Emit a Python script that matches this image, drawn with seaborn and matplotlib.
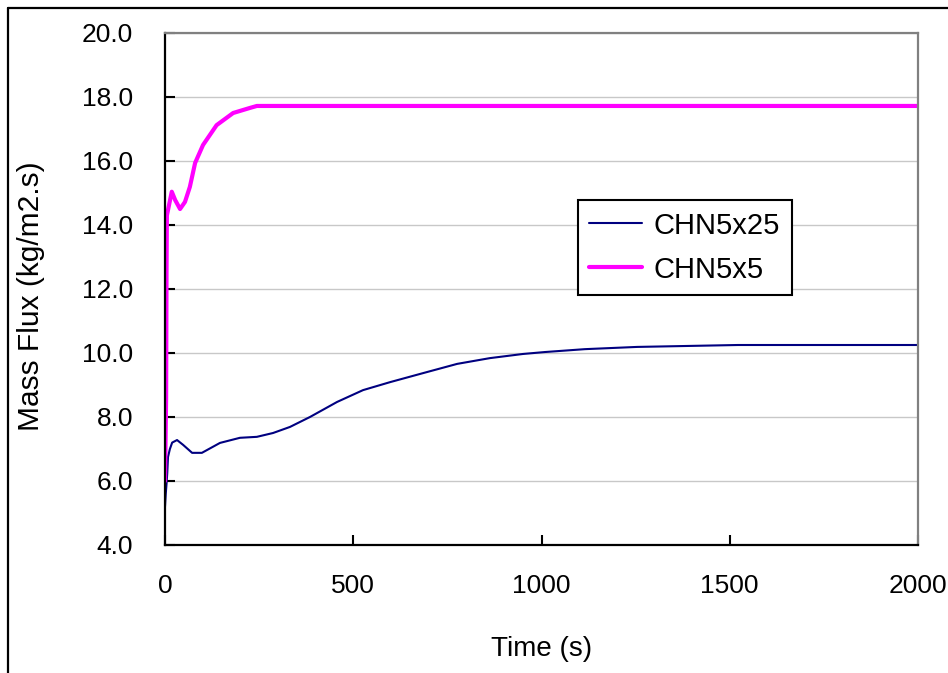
import pandas as pd
import matplotlib
matplotlib.use('Agg')
import matplotlib.pyplot as plt
from matplotlib.lines import Line2D
import seaborn as sns

# Series
t_5x25 = [0, 2, 4, 6, 8, 13, 19, 32, 48, 72, 98, 146, 199, 244, 287, 332, 385,
          457, 526, 598, 685, 776, 863, 951, 1009, 1115, 1254, 1522, 2000]
flux_5x25 = [5.2, 5.6, 5.9, 6.25, 6.75, 7.0, 7.2, 7.28, 7.13, 6.88, 6.88, 7.19,
             7.35, 7.38, 7.5, 7.69, 8.0, 8.47, 8.84, 9.09, 9.37, 9.66, 9.84,
             9.97, 10.03, 10.12, 10.19, 10.25, 10.25]

t_5x5 = [0, 3, 4, 5, 18, 27, 40, 53, 66, 80, 101, 137, 181, 226, 244, 2000]
flux_5x5 = [6.0, 8.6, 12.5, 14.3, 15.04, 14.78, 14.5, 14.72, 15.19, 15.94,
            16.5, 17.12, 17.5, 17.66, 17.72, 17.72]

series_names = ['CHN5x25', 'CHN5x5']
y_ticks = [4, 6, 8, 10, 12, 14, 16, 18, 20]
x_ticks = [0, 500, 1000, 1500, 2000]

sns.set_style('white')
plt.rcParams['font.family'] = ['Liberation Sans', 'DejaVu Sans']
plt.rcParams['text.color'] = 'black'
plt.rcParams['axes.labelcolor'] = 'black'

fig = plt.figure(figsize=(9.48, 6.73), dpi=100)
ax = fig.add_axes([165 / 948, 1 - 545 / 673, 753 / 948, 512 / 673])

sns.lineplot(x=t_5x25, y=flux_5x25, ax=ax, color='#000080', linewidth=1.5,
             label=series_names[0])
sns.lineplot(x=t_5x5, y=flux_5x5, ax=ax, color='#FF00FF', linewidth=3,
             label=series_names[1])

ax.set_xlim(0, 2000)
ax.set_ylim(4, 20)
ax.set_yticks(y_ticks)
ax.set_yticklabels([f'{v:.1f}' for v in y_ticks])
ax.set_xticks(x_ticks)
ax.set_xticklabels([str(v) for v in x_ticks])
ax.tick_params(axis='both', direction='in', length=7, width=1.5, labelsize=19,
               colors='black')
ax.tick_params(axis='y', pad=23, left=True)
ax.tick_params(axis='x', pad=21, bottom=True)

ax.yaxis.grid(True, color='#c8c8c8', linewidth=1)
ax.xaxis.grid(False)

for side in ['left', 'bottom']:
    ax.spines[side].set_color('black')
    ax.spines[side].set_linewidth(1.6)
for side in ['top', 'right']:
    ax.spines[side].set_color('#808080')
    ax.spines[side].set_linewidth(1.6)

ax.set_xlabel('Time (s)', fontsize=20)
ax.set_ylabel('Mass Flux (kg/m2.s)', fontsize=21.5)
ax.xaxis.set_label_coords(0.5, -0.178)
ax.yaxis.set_label_coords(-0.159, 0.486)

leg = ax.legend(loc='upper left', bbox_to_anchor=(0.548, 0.674), fontsize=21,
                frameon=True, fancybox=False, framealpha=1,
                borderaxespad=0, handlelength=1.8, handletextpad=0.4,
                borderpad=0.4, labelspacing=0.55)
leg.get_frame().set_edgecolor('black')
leg.get_frame().set_linewidth(1.5)

# outer frame (top and left edges are visible in the picture)
fig.add_artist(Line2D([8 / 948, 1], [1 - 8 / 673, 1 - 8 / 673],
                      transform=fig.transFigure, color='black', linewidth=1.6))
fig.add_artist(Line2D([8 / 948, 8 / 948], [0, 1 - 8 / 673],
                      transform=fig.transFigure, color='black', linewidth=1.6))

fig.savefig('out.png', dpi=100)
